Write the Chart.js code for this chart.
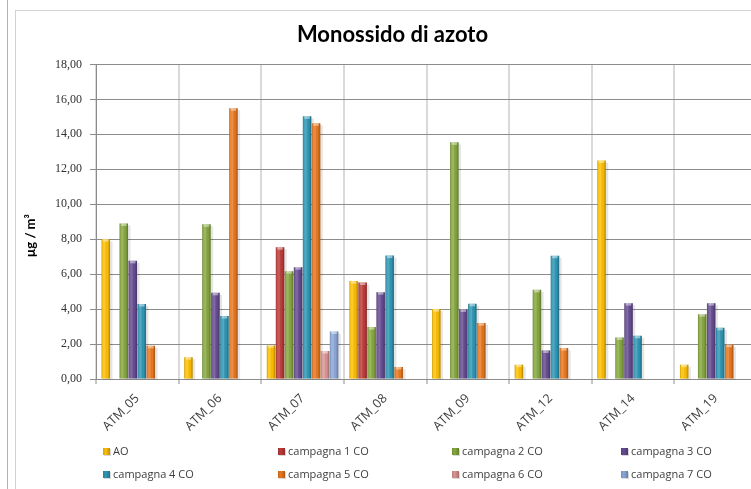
<!DOCTYPE html>
<html>
<head>
<meta charset="utf-8">
<script src="https://cdn.jsdelivr.net/npm/chart.js@4"></script>
<style>
  html, body { margin: 0; padding: 0; overflow: hidden; background: #fff; width: 751px; height: 489px; }
  #wrap { position: absolute; left: 0; top: 0; width: 780px; height: 489px; }
  #outerLine { position: absolute; left: 7px; top: 0; width: 1px; height: 489px; background: #b4b4b4; }
  #frame { position: absolute; left: 15px; top: 10px; width: 780px; height: 489px;
           border-left: 1px solid #d2d2d2; border-top: 1px solid #d2d2d2; }
  #legend { position: absolute; left: 0; top: 0; width: 780px; height: 489px; pointer-events: none;
            font-family: "Open Sans", sans-serif; font-size: 11px; color: #404040; }
  .item { position: absolute; white-space: nowrap; line-height: 14px; }
  .box { display: inline-block; width: 7px; height: 7px; margin-right: 3px; vertical-align: 0px;
         box-shadow: 1px 1px 0 rgba(0,0,0,0.15); }
</style>
</head>
<body>
<div id="outerLine"></div>
<div id="frame"></div>
<div id="wrap"><canvas id="chart" width="780" height="489"></canvas></div>
<div id="legend"></div>
<script>
// Stations and NO concentrations (µg/m³) per sampling campaign
const stations = ['ATM_05', 'ATM_06', 'ATM_07', 'ATM_08', 'ATM_09', 'ATM_12', 'ATM_14', 'ATM_19'];
const seriesNames = ['AO', 'campagna 1 CO', 'campagna 2 CO', 'campagna 3 CO',
                     'campagna 4 CO', 'campagna 5 CO', 'campagna 6 CO', 'campagna 7 CO'];
const valuesAO = [8.00, 1.25, 1.92, 5.60, 4.00, 0.82, 12.50, 0.82];
const valuesC1 = [null, null, 7.54, 5.52, null, null, null, null];
const valuesC2 = [8.90, 8.85, 6.17, 2.97, 13.54, 5.10, 2.38, 3.71];
const valuesC3 = [6.76, 4.93, 6.40, 4.97, 3.98, 1.63, 4.34, 4.34];
const valuesC4 = [4.29, 3.60, 15.03, 7.06, 4.30, 7.05, 2.47, 2.93];
const valuesC5 = [1.90, 15.49, 14.63, 0.69, 3.20, 1.77, null, 1.96];
const valuesC6 = [null, null, 1.60, null, null, null, null, null];
const valuesC7 = [null, null, 2.72, null, null, null, null, null];
const yTicks = [0, 2, 4, 6, 8, 10, 12, 14, 16, 18];

const seriesValues = [valuesAO, valuesC1, valuesC2, valuesC3, valuesC4, valuesC5, valuesC6, valuesC7];
const seriesColors = ['#FFC000', '#BE3B39', '#86A83F', '#664C91', '#2E97B5', '#E9781F', '#D99594', '#8AA8D8'];
const yTitle = 'µg / m³';

// Soft drop shadow behind each bar, and a bevel-like shading on top of it
const barShading = {
  id: 'barShading',
  beforeDatasetsDraw(chart) {
    const ctx = chart.ctx;
    ctx.save();
    chart.data.datasets.forEach((ds, i) => {
      const meta = chart.getDatasetMeta(i);
      meta.data.forEach((el, j) => {
        if (ds.data[j] == null) return;
        const w = el.width, x0 = el.x - w / 2;
        ctx.fillStyle = 'rgba(0,0,0,0.10)';
        ctx.fillRect(x0 + 1.5, el.y + 2, w + 1, el.base - el.y - 1);
      });
    });
    ctx.restore();
  },
  afterDatasetsDraw(chart) {
    const ctx = chart.ctx;
    ctx.save();
    chart.data.datasets.forEach((ds, i) => {
      const meta = chart.getDatasetMeta(i);
      meta.data.forEach((el, j) => {
        if (ds.data[j] == null) return;
        const w = el.width, x0 = el.x - w / 2, h = el.base - el.y;
        const g = ctx.createLinearGradient(x0, 0, x0 + w, 0);
        g.addColorStop(0, 'rgba(0,0,0,0.22)');
        g.addColorStop(0.18, 'rgba(255,255,255,0.10)');
        g.addColorStop(0.4, 'rgba(255,255,255,0.18)');
        g.addColorStop(0.7, 'rgba(0,0,0,0.02)');
        g.addColorStop(1, 'rgba(0,0,0,0.30)');
        ctx.fillStyle = g;
        ctx.fillRect(x0, el.y, w, h);
        // light top cap
        ctx.fillStyle = 'rgba(255,255,255,0.45)';
        ctx.fillRect(x0 + 1.5, el.y, w - 3, Math.min(2.5, h));
      });
    });
    ctx.restore();
  }
};

// Rotated unit label beside the value axis
const unitLabel = {
  id: 'unitLabel',
  afterDraw(chart) {
    const ctx = chart.ctx, area = chart.chartArea;
    ctx.save();
    ctx.translate(31, (area.top + area.bottom) / 2 + 14);
    ctx.rotate(-Math.PI / 2);
    ctx.font = 'bold 13px Lato';
    ctx.fillStyle = '#000';
    ctx.textAlign = 'center';
    ctx.textBaseline = 'middle';
    ctx.fillText(yTitle, 0, 0);
    ctx.restore();
  }
};

const chart = new Chart(document.getElementById('chart'), {
  type: 'bar',
  data: {
    labels: stations,
    datasets: seriesNames.map((name, i) => ({
      label: name,
      data: seriesValues[i],
      backgroundColor: seriesColors[i],
      borderWidth: 0,
      categoryPercentage: 0.872,
      barPercentage: 0.94
    }))
  },
  options: {
    responsive: false,
    animation: false,
    events: [],
    layout: { padding: { left: 28, right: 23, top: 0, bottom: 0 } },
    plugins: {
      legend: { display: false },
      tooltip: { enabled: false },
      title: {
        display: true,
        text: 'Monossido di azoto',
        color: '#000',
        font: { family: 'Lato', size: 22, weight: 'bold', lineHeight: 1.2 },
        padding: { top: 22, bottom: 16 }
      }
    },
    scales: {
      x: {
        offset: true,
        grid: { offset: true, color: '#d9d9d9', lineWidth: 2, drawTicks: true, tickLength: 5,
                tickColor: '#8c8c8c', tickWidth: 1 },
        border: { color: '#8c8c8c', width: 1 },
        ticks: { color: '#404040', maxRotation: 45, minRotation: 45, padding: 7,
                 font: { family: 'Open Sans', size: 12.5 } },
        afterFit(scale) { scale.height = 110; }
      },
      y: {
        min: 0, max: 18,
        afterBuildTicks(scale) { scale.ticks = yTicks.map(v => ({ value: v })); },
        grid: { color: '#8c8c8c', lineWidth: 1, tickLength: 6 },
        border: { color: '#8c8c8c', width: 1 },
        ticks: { color: '#303030', padding: 8,
                 font: { family: 'Liberation Serif', size: 12 },
                 callback: v => v.toFixed(2).replace('.', ',') },
        afterFit(scale) { scale.width = 68; }
      }
    }
  },
  plugins: [barShading, unitLabel]
});

// Legend in two rows of four columns
const legendCols = [103, 278, 452, 621];
const legendRows = [444, 467];
const legend = document.getElementById('legend');
seriesNames.forEach((name, i) => {
  const item = document.createElement('div');
  item.className = 'item';
  item.style.left = legendCols[i % 4] + 'px';
  item.style.top = legendRows[Math.floor(i / 4)] + 'px';
  const box = document.createElement('span');
  box.className = 'box';
  box.style.background = 'linear-gradient(90deg, rgba(0,0,0,0.15), ' + seriesColors[i] + ' 40%, rgba(0,0,0,0.25)), ' + seriesColors[i];
  box.style.backgroundColor = seriesColors[i];
  item.appendChild(box);
  item.appendChild(document.createTextNode(name));
  legend.appendChild(item);
});
</script>
</body>
</html>
